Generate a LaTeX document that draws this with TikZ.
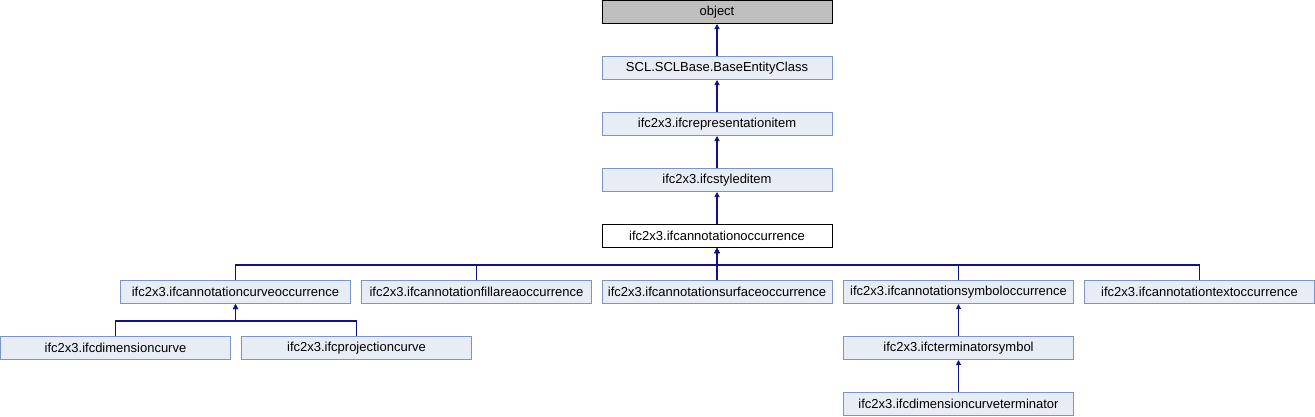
\documentclass[tikz,border=0pt]{standalone}
\usepackage{fontspec}
\setmainfont{Liberation Sans}
\usetikzlibrary{arrows.meta}
\definecolor{edgeblue}{HTML}{10108C}
\definecolor{boxfill}{HTML}{E8ECF5}
\definecolor{boxdraw}{HTML}{7B95CC}
\definecolor{objfill}{HTML}{BFBFBF}
\begin{document}
\begin{tikzpicture}[x=1pt,y=-1pt,
  cls/.style={draw=boxdraw, fill=boxfill, line width=1pt, minimum width=230pt, minimum height=23pt, inner sep=0pt,
    font=\fontsize{13}{15}\selectfont, text=black},
  rootcls/.style={cls, draw=black, fill=objfill},
  curcls/.style={cls, draw=black, fill=white},
  edge/.style={draw=edgeblue, fill=edgeblue, line width=1.1pt, {Triangle[length=5pt,width=5pt]}-}
]
\useasboundingbox (0,0) rectangle (1315,416);
% rows
\node[rootcls] (obj) at (717,12) {object};
\node[cls] (base) at (717,68) {SCL.SCLBase.BaseEntityClass};
\node[cls] (rep) at (717,124) {ifc2x3.ifcrepresentationitem};
\node[cls] (sty) at (717,180) {ifc2x3.ifcstyleditem};
\node[curcls] (ann) at (717,236) {ifc2x3.ifcannotationoccurrence};
\node[cls] (curve) at (235.5,292) {ifc2x3.ifcannotationcurveoccurrence};
\node[cls] (fill) at (476.5,292) {ifc2x3.ifcannotationfillareaoccurrence};
\node[cls] (surf) at (717,292) {ifc2x3.ifcannotationsurfaceoccurrence};
\node[cls] (sym) at (958.5,292) {ifc2x3.ifcannotationsymboloccurrence};
\node[cls] (text) at (1199.5,292) {ifc2x3.ifcannotationtextoccurrence};
\node[cls] (dim) at (115.5,348) {ifc2x3.ifcdimensioncurve};
\node[cls] (proj) at (356.5,348) {ifc2x3.ifcprojectioncurve};
\node[cls] (term) at (958.5,348) {ifc2x3.ifcterminatorsymbol};
\node[cls] (dterm) at (958.5,404) {ifc2x3.ifcdimensioncurveterminator};
% edges
\draw[edge] (obj.south) -- (base.north);
\draw[edge] (base.south) -- (rep.north);
\draw[edge] (rep.south) -- (sty.north);
\draw[edge] (sty.south) -- (ann.north);
\foreach \c in {curve,fill,surf,sym,text}
  \draw[edge, fill=none] (ann.south) -- ++(0,17) -| (\c.north);
\foreach \c in {dim,proj}
  \draw[edge, fill=none] (curve.south) -- ++(0,17) -| (\c.north);
\draw[edge] (sym.south) -- (term.north);
\draw[edge] (term.south) -- (dterm.north);
\end{tikzpicture}
\end{document}
